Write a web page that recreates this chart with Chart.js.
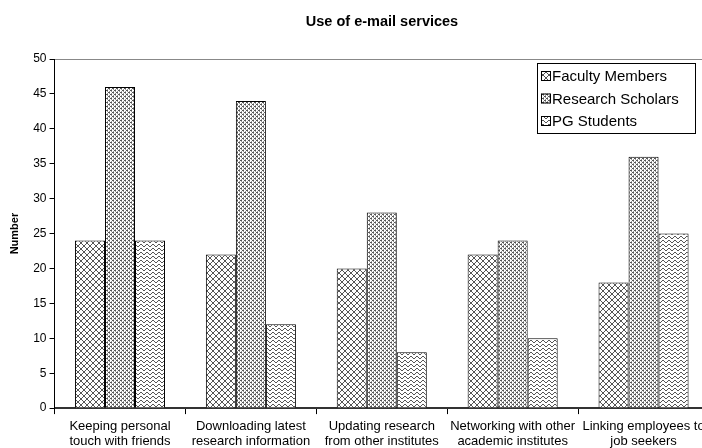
<!DOCTYPE html>
<html>
<head>
<meta charset="utf-8">
<script src="https://cdn.jsdelivr.net/npm/chart.js@4.4.1/dist/chart.umd.min.js"></script>
<style>
html,body{margin:0;padding:0;background:#fff;overflow:hidden;}
#wrap{width:702px;height:448px;position:relative;overflow:hidden;}
</style>
</head>
<body>
<div id="wrap"><canvas id="c" width="710" height="454"></canvas></div>
<script>
const categories = [
  ["Keeping personal", "touch with friends"],
  ["Downloading latest", "research information"],
  ["Updating research", "from other institutes"],
  ["Networking with other", "academic institutes"],
  ["Linking employees to", "job seekers"]
];
const seriesNames = ["Faculty Members", "Research Scholars", "PG Students"];
const facultyMembers = [24, 22, 20, 22, 18];
const researchScholars = [46, 44, 28, 24, 36];
const pgStudents = [24, 12, 8, 10, 25];
const yTicks = [0, 5, 10, 15, 20, 25, 30, 35, 40, 45, 50];
const chartTitle = 'Use of e-mail services';
const FONT = '"Liberation Sans", Arial, sans-serif';

function makePattern(kind) {
  const c = document.createElement('canvas');
  const g = c.getContext('2d');
  if (kind === 0) {
    c.width = 6; c.height = 6;
    g.fillStyle = '#fff'; g.fillRect(0, 0, 6, 6);
    g.fillStyle = '#555';
    for (let i = 0; i < 6; i++) {
      g.fillRect(i, i, 1, 1);
      g.fillRect(5 - i, i, 1, 1);
    }
  } else if (kind === 1) {
    c.width = 4; c.height = 4;
    g.fillStyle = '#fff'; g.fillRect(0, 0, 4, 4);
    g.fillStyle = '#555';
    g.fillRect(0, 0, 2, 1); g.fillRect(2, 2, 2, 1);
    g.fillStyle = '#999';
    g.fillRect(1, 1, 1, 1); g.fillRect(3, 3, 1, 1);
    g.fillRect(3, 1, 1, 1); g.fillRect(1, 3, 1, 1);
  } else {
    c.width = 6; c.height = 4;
    g.fillStyle = '#fff'; g.fillRect(0, 0, 6, 4);
    g.fillStyle = '#555';
    g.fillRect(0, 2, 1, 1); g.fillRect(1, 1, 1, 1); g.fillRect(2, 0, 1, 1);
    g.fillRect(3, 0, 1, 1); g.fillRect(4, 1, 1, 1); g.fillRect(5, 2, 1, 1);
  }
  return document.getElementById('c').getContext('2d').createPattern(c, 'repeat');
}
const patterns = [makePattern(0), makePattern(1), makePattern(2)];

const extras = {
  id: 'extras',
  afterDraw(chart) {
    const ctx = chart.ctx;
    ctx.save();
    // title
    ctx.fillStyle = '#000';
    ctx.font = 'bold 14.5px ' + FONT;
    ctx.textAlign = 'center';
    ctx.textBaseline = 'middle';
    ctx.fillText(chartTitle, 382, 22);
    // legend
    const x = 537, y = 63, w = 158, h = 70;
    ctx.textAlign = 'left';
    ctx.fillStyle = '#fff';
    ctx.fillRect(x, y, w, h);
    ctx.strokeStyle = '#000';
    ctx.lineWidth = 1;
    ctx.strokeRect(x + 0.5, y + 0.5, w, h);
    ctx.font = '15px ' + FONT;
    chart.data.datasets.forEach((ds, i) => {
      const cy = y + 13 + i * 22.5;
      ctx.fillStyle = ds.backgroundColor;
      ctx.fillRect(x + 4, cy - 5, 10, 10);
      ctx.strokeStyle = '#000';
      ctx.strokeRect(x + 4.5, cy - 4.5, 9, 9);
      ctx.fillStyle = '#000';
      ctx.fillText(ds.label, x + 15, cy + 1);
    });
    ctx.restore();
  }
};

new Chart(document.getElementById('c'), {
  type: 'bar',
  data: {
    labels: categories,
    datasets: [
      { label: seriesNames[0], data: facultyMembers, backgroundColor: patterns[0] },
      { label: seriesNames[1], data: researchScholars, backgroundColor: patterns[1] },
      { label: seriesNames[2], data: pgStudents, backgroundColor: patterns[2] }
    ].map(d => Object.assign(d, { borderColor: '#000', borderWidth: 1, categoryPercentage: 0.688, barPercentage: 1.0 }))
  },
  options: {
    responsive: false,
    animation: false,
    devicePixelRatio: 1,
    layout: { padding: { top: 59, right: 1, bottom: 0, left: 8 } },
    plugins: {
      legend: { display: false },
      tooltip: { enabled: false },
      title: { display: false }
    },
    scales: {
      x: {
        grid: { offset: true, drawOnChartArea: false, drawTicks: true, tickLength: 6, color: '#000' },
        border: { color: '#333', width: 2 },
        ticks: { color: '#000', font: { family: FONT, size: 13, lineHeight: 1.15 }, maxRotation: 0, autoSkip: false, padding: 5 }
      },
      y: {
        min: 0, max: 50,
        afterBuildTicks(axis) { axis.ticks = yTicks.map(v => ({ value: v })); },
        grid: {
          drawOnChartArea: true, drawTicks: true, tickLength: 5,
          color: ctx => (ctx.tick && ctx.tick.value === 50) ? '#888' : 'rgba(0,0,0,0)',
          tickColor: '#000'
        },
        border: { color: '#000', width: 1 },
        title: { display: true, text: 'Number', color: '#000', font: { family: FONT, size: 11, weight: 'bold' }, padding: { top: 0, bottom: 9 } },
        ticks: { color: '#000', font: { family: FONT, size: 12 }, padding: 3 }
      }
    }
  },
  plugins: [extras]
});
</script>
</body>
</html>
